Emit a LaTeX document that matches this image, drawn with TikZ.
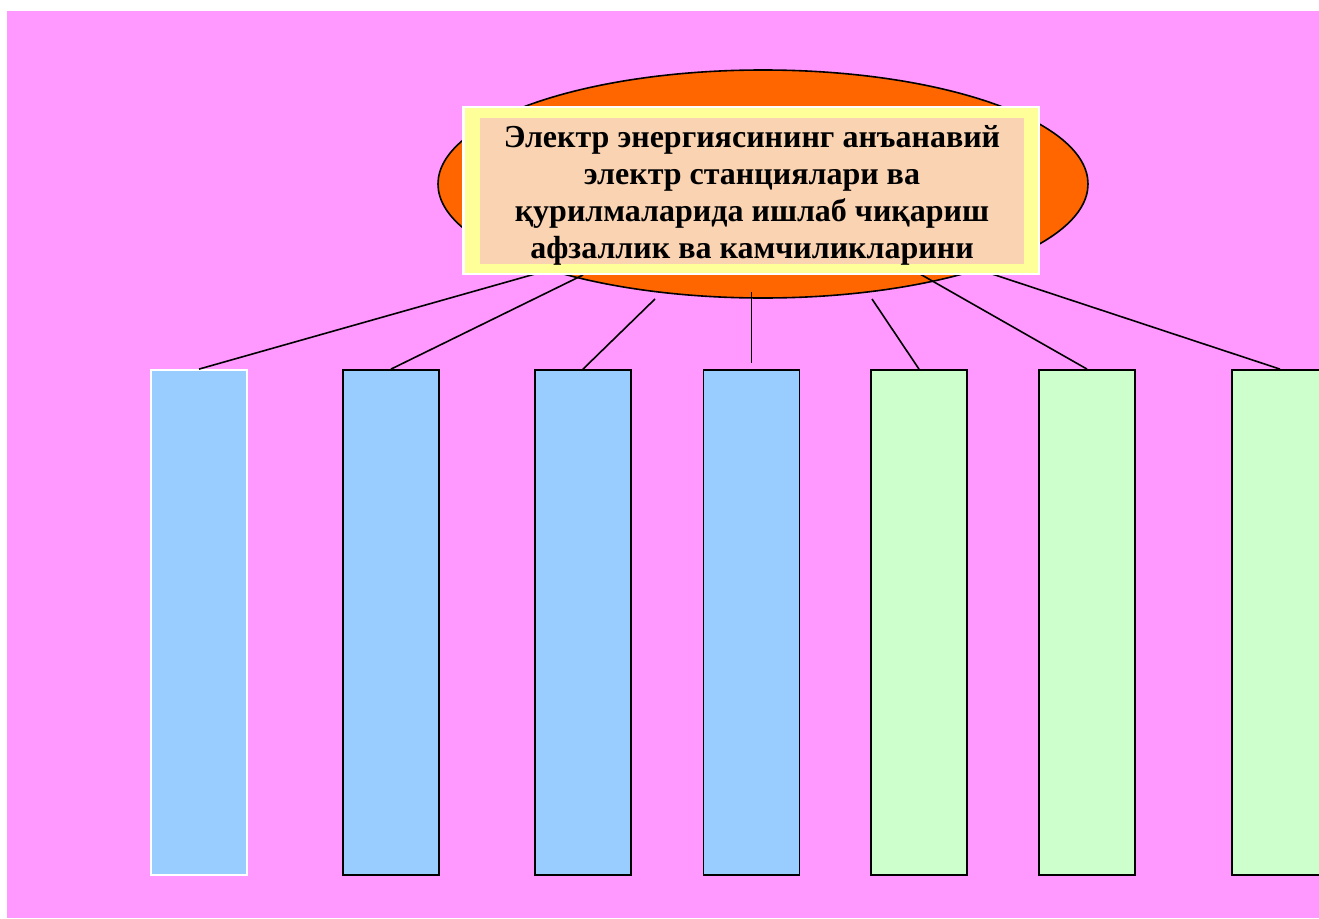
\documentclass[tikz,border=0pt]{standalone}
\usepackage{fontspec}
\setmainfont{Liberation Serif}
\usetikzlibrary{shapes.geometric}
\definecolor{bgpink}{HTML}{FF99FF}
\definecolor{ellorange}{HTML}{FF6600}
\definecolor{boxyellow}{HTML}{FFFF99}
\definecolor{boxpeach}{HTML}{FAD3B2}
\definecolor{colblue}{HTML}{99CCFF}
\definecolor{colgreen}{HTML}{CCFFCC}
\tikzset{
  column/.style={rectangle, inner sep=0pt, minimum width=96pt, minimum height=505pt, draw=black, line width=1.8pt},
  bluecol/.style={column, fill=colblue},
  greencol/.style={column, fill=colgreen},
  link/.style={draw=black, line width=1.6pt},
}
\begin{document}
\begin{tikzpicture}[x=1pt,y=-1pt]
\useasboundingbox (0,0) rectangle (1319,918);
\fill[white] (0,0) rectangle (1319,918);
\fill[bgpink] (7,11) rectangle (1319,918);
% ellipse
\node[ellipse, draw=black, line width=1.6pt, fill=ellorange, inner sep=0pt,
      minimum width=650pt, minimum height=228pt] (oval) at (763,184) {};
% columns
\node[bluecol, draw=white] (c1) at (199,622.5) {};
\node[bluecol] (c2) at (391,622.5) {};
\node[bluecol] (c3) at (583,622.5) {};
\node[bluecol] (c4) at (751.5,622.5) {};
\node[greencol] (c5) at (919,622.5) {};
\node[greencol] (c6) at (1087,622.5) {};
\node[greencol] (c7) at (1280,622.5) {};
% connector start points
\coordinate (s1) at (535,274);
\coordinate (s2) at (583,275);
\coordinate (s3) at (655,299);
\coordinate (s4) at (751.5,292);
\coordinate (e4) at (751.5,363);
\coordinate (s5) at (872,299);
\coordinate (s6) at (920,274);
\coordinate (s7) at (992,274);
\draw[link] (s1) -- (c1.north);
\draw[link] (s2) -- (c2.north);
\draw[link] (s3) -- (c3.north);
\draw[link] (s4) -- (e4);
\draw[link] (s5) -- (c5.north);
\draw[link] (s6) -- (c6.north);
\draw[link] (s7) -- (c7.north);
% title box
\node[rectangle, fill=white, inner sep=0pt, minimum width=578pt, minimum height=169pt] (frame) at (751,190.5) {};
\node[rectangle, fill=boxyellow, inner sep=0pt, minimum width=573pt, minimum height=165pt] (frameinner) at (751.5,190.5) {};
\node[rectangle, fill=boxpeach, inner sep=0pt, minimum width=544pt, minimum height=146pt] (title) at (752,191) {};
\node[align=center, inner sep=0pt, font=\fontsize{32}{37}\selectfont\bfseries] (titletext) at (752,195)
  {Электр энергиясининг анъанавий\\электр станциялари ва\\қурилмаларида ишлаб чиқариш\\афзаллик ва камчиликларини};
\end{tikzpicture}
\end{document}
